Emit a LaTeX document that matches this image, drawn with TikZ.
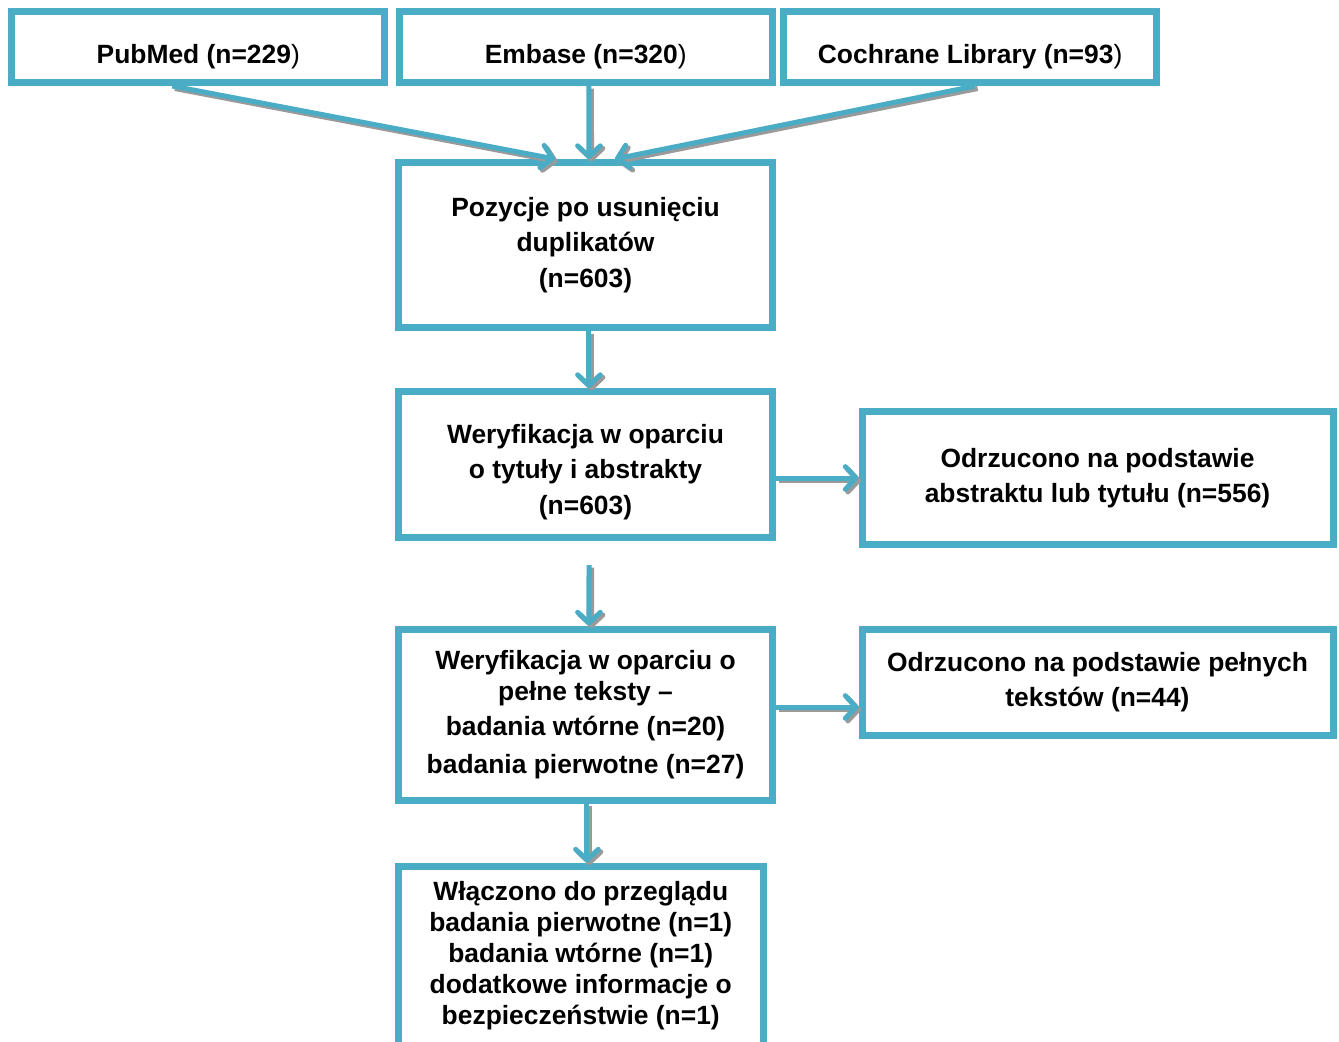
\documentclass[tikz,border=0pt]{standalone}
\usepackage{fontspec}
\setmainfont{Liberation Sans}
\usetikzlibrary{arrows.meta,calc}
\definecolor{boxblue}{HTML}{4BACC6}
\definecolor{shadowgray}{HTML}{9A9A9A}
\begin{document}
\begin{tikzpicture}[x=0.75pt,y=-0.75pt,
  box/.style={draw=boxblue,line width=5.25pt,rectangle,inner sep=0pt,align=center,
    font=\fontsize{19.8pt}{26.6pt}\selectfont\bfseries},
  tight/.style={font=\fontsize{19.8pt}{23.25pt}\selectfont\bfseries},
  arr/.style={draw=boxblue,line width=3.75pt,
    -{Straight Barb[length=8pt,width=17pt,line cap=round,line join=round]}},
  sarr/.style={draw=shadowgray,line width=3.75pt,transform canvas={shift={(1.9pt,-1.9pt)}},
    -{Straight Barb[length=8pt,width=17pt,line cap=round,line join=round]}}]
\useasboundingbox (0,0) rectangle (1339,1042);
\node[box,minimum width=280.1pt,minimum height=53.6pt] (pub) at (198.25,46.75) {\rule{0pt}{29.5pt}PubMed (n=229\textmd{)}};
\node[box,minimum width=280.1pt,minimum height=53.6pt] (emb) at (585.75,46.75) {\rule{0pt}{29.5pt}Embase (n=320\textmd{)}};
\node[box,minimum width=279.9pt,minimum height=53.6pt] (coc) at (970.1,46.75) {\rule{0pt}{29.5pt}Cochrane Library (n=93\textmd{)}};
\node[box,minimum width=280.5pt,minimum height=123.75pt] (poz) at (585.5,245) {Pozycje po usunięciu\\duplikatów\\(n=603)};
\node[box,minimum width=280.5pt,minimum height=109.5pt] (w1) at (585.5,464.5) {\rule{0pt}{25.7pt}Weryfikacja w oparciu\\o tytuły i abstrakty\\(n=603)};
\node[box,minimum width=353.25pt,minimum height=100.1pt] (o1) at (1097.5,478) {Odrzucono na podstawie\\abstraktu lub tytułu (n=556)};
\node[box,tight,minimum width=280.5pt,minimum height=128.25pt] (w2) at (585.5,714.5) {Weryfikacja w oparciu o\\pełne teksty –\\[3pt]badania wtórne (n=20)\\[5.25pt]badania pierwotne (n=27)};
\node[box,minimum width=353.25pt,minimum height=79.5pt] (o2) at (1097.5,682) {Odrzucono na podstawie pełnych\\tekstów (n=44)};
\node[box,tight,minimum width=273.4pt,minimum height=134.25pt] (wl) at (580.75,955.5) {Włączono do przeglądu\\badania pierwotne (n=1)\\badania wtórne (n=1)\\dodatkowe informacje o\\bezpieczeństwie (n=1)};
\coordinate (free) at (589,565);
\coordinate (o2in) at ([yshift=-18.75pt]o2.west);
% shadows
\draw[sarr] ([xshift=-19.5pt]pub.south) -- ([xshift=-22.9pt]poz.north);
\draw[sarr] ([xshift=2.4pt]emb.south) -- ([xshift=2.6pt]poz.north);
\draw[sarr] ([xshift=3.75pt]coc.south) -- ([xshift=22.1pt]poz.north);
\draw[sarr] ([xshift=2.6pt]poz.south) -- ([xshift=2.6pt]w1.north);
\draw[sarr] (w1.east |- o1.west) -- (o1.west);
\draw[sarr] (free) -- ([xshift=2.6pt]w2.north);
\draw[sarr] (w2.east |- o2in) -- (o2in);
\draw[sarr] ([xshift=1.1pt]w2.south) -- ([xshift=1.1pt]w2.south |- wl.north);
% arrows
\draw[arr] ([xshift=-19.5pt]pub.south) -- ([xshift=-22.9pt]poz.north);
\draw[arr] ([xshift=2.4pt]emb.south) -- ([xshift=2.6pt]poz.north);
\draw[arr] ([xshift=3.75pt]coc.south) -- ([xshift=22.1pt]poz.north);
\draw[arr] ([xshift=2.6pt]poz.south) -- ([xshift=2.6pt]w1.north);
\draw[arr] (w1.east |- o1.west) -- (o1.west);
\draw[arr] (free) -- ([xshift=2.6pt]w2.north);
\draw[arr] (w2.east |- o2in) -- (o2in);
\draw[arr] ([xshift=1.1pt]w2.south) -- ([xshift=1.1pt]w2.south |- wl.north);
\end{tikzpicture}
\end{document}
